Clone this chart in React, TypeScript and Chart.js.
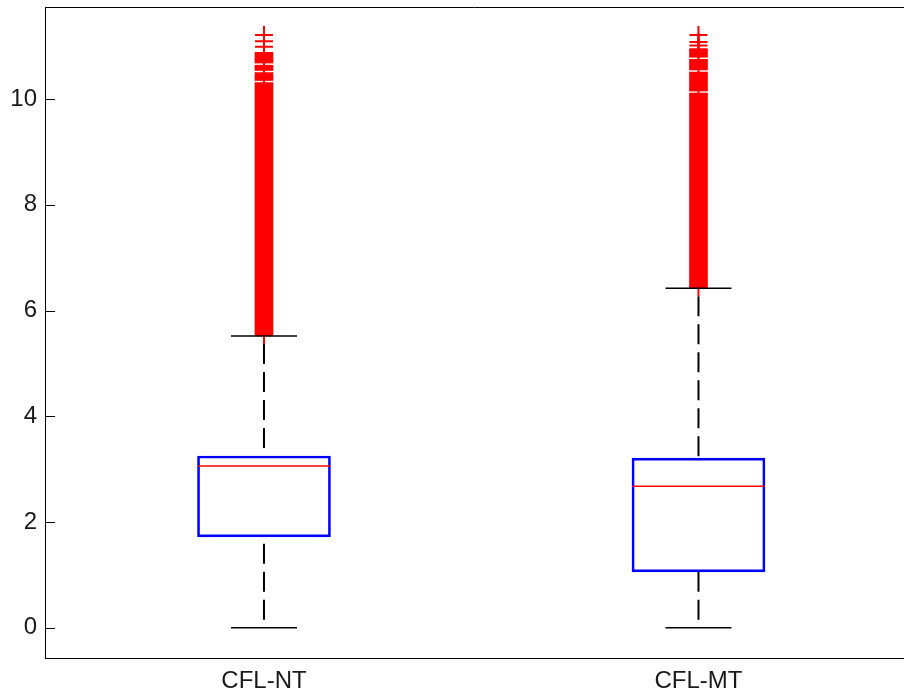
import React, { useEffect, useRef } from 'react';
import { Chart, registerables } from 'chart.js';

Chart.register(...registerables);

// ---- data ----
const categories = ['CFL-NT', 'CFL-MT'];
const groupPositions = [1, 2];
const lowerWhisker = [0, 0];
const q1 = [1.72, 1.06];
const medians = [3.06, 2.68];
const q3 = [3.25, 3.21];
const upperWhisker = [5.52, 6.42];
// the outliers are so dense above the whisker that they merge into a solid column
const denseOutlierTop = [10.87, 10.94];
const denseOutlierGaps = [
  [10.33, 10.52, 10.66],
  [10.13, 10.53, 10.77],
];
const outliersNT = [5.54, 10.28, 10.47, 10.61, 10.87, 10.99, 11.09, 11.21];
const outliersMT = [6.44, 10.08, 10.48, 10.72, 10.94, 11.01, 11.08, 11.21];
const outlierLists = [outliersNT, outliersMT];
const yTickValues = [0, 2, 4, 6, 8, 10];

const Y_MIN = -0.57;
const Y_MAX = 11.74;
const GAP = 0.02;

const FONT = { family: "'Liberation Sans', Arial, Helvetica, sans-serif", size: 24 };
const TEXT = '#1a1a1a';

function bandSegments(i: number) {
  const bounds = [upperWhisker[i], ...denseOutlierGaps[i], denseOutlierTop[i]];
  const segs: { x: number; y: [number, number] }[] = [];
  for (let k = 0; k < bounds.length - 1; k++) {
    const lo = k === 0 ? bounds[k] : bounds[k] + GAP;
    const hi = k === bounds.length - 2 ? bounds[k + 1] : bounds[k + 1] - GAP;
    segs.push({ x: groupPositions[i], y: [lo, hi] });
  }
  return segs;
}

const framePlugin = {
  id: 'frame',
  afterDraw(chart: any) {
    const { ctx, chartArea: a, scales } = chart;
    const y = scales.y;
    ctx.save();
    ctx.strokeStyle = '#000';
    ctx.lineWidth = 1;
    ctx.beginPath();
    const top = Math.round(a.top) + 0.5;
    ctx.moveTo(a.left, top);
    ctx.lineTo(a.right, top);
    y.ticks.forEach((t: any) => {
      const p = Math.round(y.getPixelForValue(t.value)) + 0.5;
      ctx.moveTo(a.left, p);
      ctx.lineTo(a.left + 10, p);
    });
    ctx.stroke();
    ctx.restore();
  },
};

export default function App() {
  const ref = useRef<HTMLCanvasElement>(null);

  useEffect(() => {
    document.body.style.margin = '0';
    const canvas = ref.current;
    if (!canvas) return;

    const whiskerSets = groupPositions.flatMap((x, i) => [
      { y0: upperWhisker[i], y1: q3[i], x },
      { y0: lowerWhisker[i], y1: q1[i], x },
    ]).map((w) => ({
      type: 'line' as const,
      data: [
        { x: w.x, y: w.y0 },
        { x: w.x, y: w.y1 },
      ],
      borderColor: '#000',
      borderWidth: 2,
      borderDash: [20, 8],
      borderDashOffset: 20,
      pointRadius: 0,
      fill: false,
      order: 5,
    }));

    const chart = new Chart(canvas, {
      type: 'scatter',
      data: {
        datasets: [
          {
            type: 'scatter',
            data: groupPositions.map((x, i) => ({ x, y: medians[i] })),
            pointStyle: 'line',
            pointRadius: 66,
            pointBorderColor: '#ff0000',
            pointBorderWidth: 1.5,
            order: 0,
          } as any,
          {
            type: 'bar',
            data: groupPositions.map((x, i) => ({ x, y: [q1[i], q3[i]] })),
            backgroundColor: 'rgba(0,0,0,0)',
            borderColor: '#0000ff',
            borderWidth: 2,
            borderSkipped: false,
            barThickness: 133,
            grouped: false,
            order: 1,
          },
          {
            type: 'scatter',
            data: groupPositions.flatMap((x, i) => [
              { x, y: lowerWhisker[i] },
              { x, y: upperWhisker[i] },
            ]),
            pointStyle: 'line',
            pointRadius: 33,
            pointBorderColor: '#000',
            pointBorderWidth: 1.5,
            order: 2,
          },
          {
            type: 'scatter',
            data: groupPositions.flatMap((x, i) => outlierLists[i].map((y) => ({ x, y }))),
            pointStyle: 'cross',
            pointRadius: 9,
            pointBorderColor: '#ff0000',
            pointBorderWidth: 2,
            order: 3,
          },
          {
            type: 'bar',
            data: groupPositions.flatMap((_, i) => bandSegments(i)),
            backgroundColor: '#ff0000',
            borderWidth: 0,
            barThickness: 18,
            grouped: false,
            order: 4,
          },
          ...whiskerSets,
        ] as any,
      },
      options: {
        animation: false,
        responsive: false,
        events: [],
        layout: { autoPadding: false, padding: { top: 7, right: 0, left: 0, bottom: 0 } },
        plugins: { legend: { display: false }, tooltip: { enabled: false } },
        scales: {
          x: {
            type: 'linear',
            min: 0.496,
            max: 2.473,
            offset: false,
            afterBuildTicks: (s: any) => {
              s.ticks = groupPositions.map((v) => ({ value: v }));
            },
            afterFit: (s: any) => {
              s.height = 40;
              s.paddingLeft = 0;
              s.paddingRight = 0;
            },
            ticks: {
              callback: (v: any) => {
                const idx = groupPositions.indexOf(Number(v));
                return idx >= 0 ? categories[idx] : '';
              },
              font: FONT,
              color: TEXT,
              padding: 9,
              maxRotation: 0,
              autoSkip: false,
            },
            grid: { display: false, drawTicks: false },
            border: { display: true, color: '#000', width: 1 },
          },
          y: {
            type: 'linear',
            min: Y_MIN,
            max: Y_MAX,
            afterBuildTicks: (s: any) => {
              s.ticks = yTickValues.map((v) => ({ value: v }));
            },
            afterFit: (s: any) => {
              s.width = 45;
              s.paddingTop = 0;
              s.paddingBottom = 0;
            },
            ticks: {
              font: FONT,
              color: TEXT,
              padding: 8,
              callback: (v: any) => String(v),
            },
            grid: { display: false, drawTicks: false },
            border: { display: true, color: '#000', width: 1 },
          },
        },
      } as any,
      plugins: [framePlugin],
    });

    return () => chart.destroy();
  }, []);

  return (
    <div style={{ width: 904, height: 698 }}>
      <canvas ref={ref} width={904} height={698} style={{ display: 'block' }} />
    </div>
  );
}
